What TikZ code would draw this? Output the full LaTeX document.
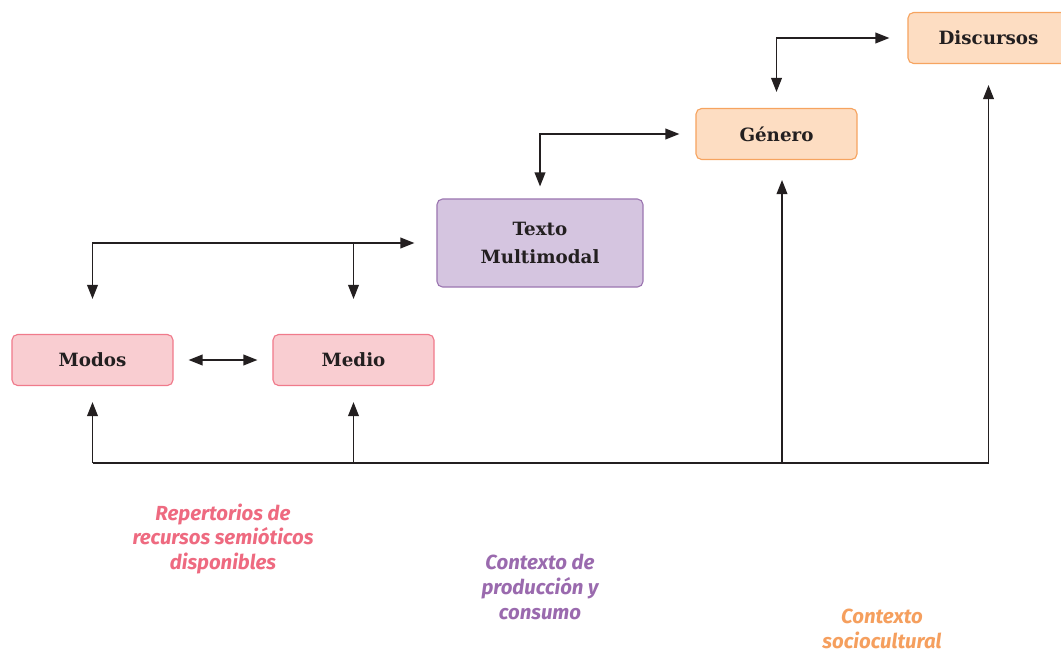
\documentclass[tikz,border=0pt]{standalone}
\usepackage{fontspec}
\setmainfont{DejaVu Serif}
\newfontfamily\tagfont{Fira Sans}
\usetikzlibrary{arrows.meta, positioning}

\definecolor{pinkfill}{HTML}{F9CDD1}
\definecolor{pinkline}{HTML}{F07A8B}
\definecolor{pinktext}{HTML}{EE6A80}
\definecolor{lilacfill}{HTML}{D5C5E0}
\definecolor{lilacline}{HTML}{9C76B1}
\definecolor{lilactext}{HTML}{9A6AAE}
\definecolor{peachfill}{HTML}{FDDDC2}
\definecolor{peachline}{HTML}{F6A460}
\definecolor{peachtext}{HTML}{F59F5E}
\definecolor{ink}{HTML}{231F20}

\begin{document}
\begin{tikzpicture}[x=0.025cm, y=-0.025cm]
  % one unit = one pixel of the original layout, y grows downwards
  \tikzset{
    box/.style={rounded corners=4pt, line width=0.8pt, minimum width=4.025cm,
      minimum height=1.275cm, align=center, text=ink,
      font=\bfseries\fontsize{13}{20}\selectfont},
    modobox/.style={box, fill=pinkfill, draw=pinkline},
    textobox/.style={box, fill=lilacfill, draw=lilacline, minimum width=5.15cm,
      minimum height=2.2cm},
    ctxbox/.style={box, fill=peachfill, draw=peachline},
    tag/.style={align=center, inner sep=1pt,
      font=\tagfont\bfseries\itshape\fontsize{14.5}{17.5}\selectfont},
    link/.style={draw=ink, line width=0.9pt, -{Triangle[length=3.5mm, width=2.7mm]}},
    dlink/.style={link, {Triangle[length=3.5mm, width=2.7mm]}-{Triangle[length=3.5mm, width=2.7mm]}}
  }

  \useasboundingbox (0,0) rectangle (1061,652);

  % boxes
  \node[modobox]  (modos)     at (92.5,360)  {Modos};
  \node[modobox]  (medio)     at (353.5,360) {Medio};
  \node[textobox] (texto)     at (540,243)   {Texto\\Multimodal};
  \node[ctxbox]   (genero)    at (776.5,134) {Género};
  \node[ctxbox]   (discursos) at (988.5,38)  {Discursos};

  % labels underneath
  \node[tag, text=pinktext]  (repertorios) at (223,539) {Repertorios de\\recursos semióticos\\disponibles};
  \node[tag, text=lilactext] (produccion)  at (540,587) {Contexto de\\producción y\\consumo};
  \node[tag, text=peachtext] (sociocult)   at (882,629) {Contexto\\sociocultural};

  % connectors between the boxes
  \draw[dlink, shorten <=0.375cm, shorten >=0.375cm] (modos.east) -- (medio.west);
  \draw[dlink, shorten <=0.875cm, shorten >=0.55cm] (modos.north) |- (texto.west);
  \draw[link, shorten >=0.875cm] (medio.north |- texto.west) -- (medio.north);
  \draw[dlink, shorten <=0.3cm, shorten >=0.4cm] (texto.north) |- (genero.west);
  \draw[dlink, shorten <=0.4cm, shorten >=0.45cm] (genero.north) |- (discursos.west);

  % common base line and the arrows rising from it
  \coordinate (base) at (0,463);
  \coordinate (generofoot) at ([xshift=5.5*0.025cm]genero.south);
  \draw[draw=ink, line width=0.9pt] (modos.south |- base) -- (discursos.south |- base);
  \foreach \n/\g in {modos/0.4cm, medio/0.4cm, generofoot/0.5cm, discursos/0.525cm}{
    \draw[link, shorten >=\g] (\n |- base) -- (\n);
  }
\end{tikzpicture}
\end{document}
